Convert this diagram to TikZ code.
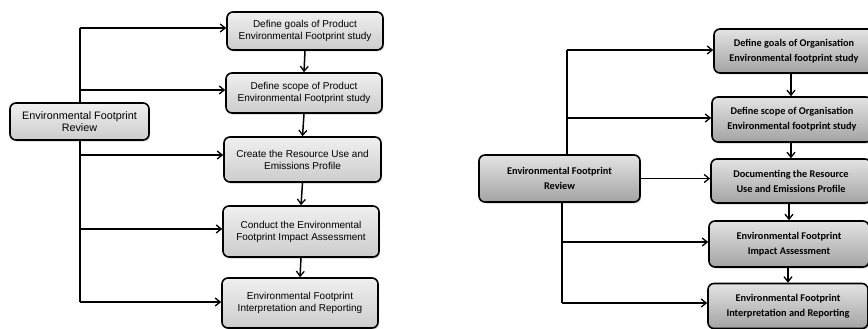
\documentclass[tikz,border=0pt]{standalone}
\usepackage{fontspec}
\newfontfamily\arialf{Liberation Sans}
\newfontfamily\calib{Carlito}
\usetikzlibrary{arrows.meta,shadows}
\begin{document}
\begin{tikzpicture}[x=1pt,y=-1pt,
  lbox/.style={draw=black, line width=1.6pt, rounded corners=6pt, align=center,
    top color=gray!12, bottom color=gray!40, inner sep=2pt,
    font=\arialf\fontsize{10}{12}\selectfont,
    drop shadow={shadow xshift=1.2pt, shadow yshift=-1.5pt, fill=gray!70}},
  rbox/.style={draw=black, line width=1.6pt, rounded corners=6pt, align=center,
    top color=gray!22, bottom color=gray!72, inner sep=2pt,
    font=\calib\bfseries\fontsize{10.3}{15}\selectfont,
    drop shadow={shadow xshift=1.2pt, shadow yshift=-1.5pt, fill=gray!70}},
  conn/.style={line width=1.5pt, -{Straight Barb[length=5pt,width=8pt,line width=1.3pt]}},
  spine/.style={line width=1.5pt}]
\useasboundingbox (0,0) rectangle (868,329);
\fill[white] (0,0) rectangle (868,329);
% ---------- left panel ----------
\node[lbox, minimum width=139pt, minimum height=37pt, font=\arialf\fontsize{10.8}{12.5}\selectfont] (L0) at (79.5,121.5) {Environmental Footprint\\Review};
\node[lbox, minimum width=156pt, minimum height=38pt] (L1) at (305,31) {Define goals of Product\\Environmental Footprint study};
\node[lbox, minimum width=156pt, minimum height=40pt] (L2) at (304,93) {Define scope of Product\\Environmental Footprint study};
\node[lbox, minimum width=157pt, minimum height=45pt] (L3) at (302.5,159.5) {Create the Resource Use and\\Emissions Profile};
\node[lbox, minimum width=156pt, minimum height=51pt] (L4) at (301,231.5) {Conduct the Environmental\\Footprint Impact Assessment};
\node[lbox, minimum width=156pt, minimum height=50pt] (L5) at (300,303) {Environmental Footprint\\Interpretation and Reporting};
\coordinate (ls1) at (80,28);
\coordinate (ls2) at (80,90);
\coordinate (ls3) at (80,155);
\coordinate (ls4) at (80,229);
\coordinate (ls5) at (80,302);
\draw[spine] (ls1) -- (L0.north -| ls1);
\draw[spine] (L0.south -| ls3) -- (ls5);
\foreach \i in {1,...,5}{\draw[conn] (ls\i) -- (ls\i -| L\i.west);}
\draw[conn] (L1.south) -- (L2.north);
\draw[conn] (L2.south) -- (L3.north);
\draw[conn] (L3.south) -- (L4.north);
\draw[conn] (L4.south) -- (L5.north);
% ---------- right panel ----------
\node[rbox, minimum width=161pt, minimum height=47pt] (R0) at (559.5,178.5) {Environmental Footprint\\Review};
\node[rbox, minimum width=160pt, minimum height=44pt] (R1) at (794,51) {Define goals of Organisation\\Environmental footprint study};
\node[rbox, minimum width=160pt, minimum height=45pt] (R2) at (792,119.5) {Define scope of Organisation\\Environmental footprint study};
\node[rbox, minimum width=160pt, minimum height=44pt] (R3) at (791,181) {Documenting the Resource\\Use and Emissions Profile};
\node[rbox, minimum width=160pt, minimum height=46pt] (R4) at (789,244) {Environmental Footprint\\Impact Assessment};
\node[rbox, minimum width=160pt, minimum height=45pt] (R5) at (788,306) {Environmental Footprint\\Interpretation and Reporting};
\coordinate (rs1) at (567,50);
\coordinate (rs2) at (567,118);
\coordinate (rs4) at (562,242);
\coordinate (rs5) at (562,303);
\draw[spine] (rs1) -- (R0.north -| rs1);
\draw[spine] (R0.south -| rs4) -- (rs5);
\foreach \i in {1,2,4,5}{\draw[conn] (rs\i) -- (rs\i -| R\i.west);}
\draw[conn] (R0.east) -- (R0.east -| R3.west);
\draw[conn] (R1.south -| 791,0) -- (R2.north -| 791,0);
\draw[conn] (R2.south -| 791,0) -- (R3.north -| 791,0);
\draw[conn] (R3.south -| 789,0) -- (R4.north -| 789,0);
\draw[conn] (R4.south -| 788,0) -- (R5.north -| 788,0);
\end{tikzpicture}
\end{document}
